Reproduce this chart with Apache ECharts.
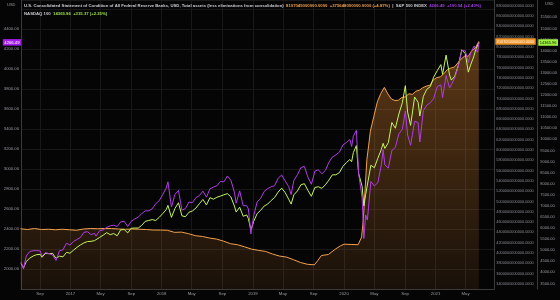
<!DOCTYPE html>
<html>
<head>
<meta charset="utf-8">
<script src="https://cdn.jsdelivr.net/npm/echarts@6/dist/echarts.min.js"></script>
<style>
html,body{margin:0;padding:0;background:#050505;}
#c{width:560px;height:300px;}
</style>
</head>
<body>
<div id="c"></div>
<script>
// ---------- DATA ----------
const marketDates = [
'2016-06-17','2016-06-27','2016-07-08','2016-07-22','2016-08-05','2016-08-19','2016-09-02','2016-09-09','2016-09-23','2016-10-07','2016-10-21','2016-11-04','2016-11-18','2016-12-02','2016-12-16','2016-12-30',
'2017-01-13','2017-01-27','2017-02-10','2017-02-24','2017-03-10','2017-03-24','2017-04-07','2017-04-13','2017-04-28','2017-05-12','2017-05-26','2017-06-09','2017-06-23','2017-07-07','2017-07-21','2017-08-04','2017-08-18','2017-09-01','2017-09-15','2017-09-29','2017-10-13','2017-10-27','2017-11-10','2017-11-24','2017-12-08','2017-12-22',
'2018-01-05','2018-01-19','2018-01-26','2018-02-09','2018-02-23','2018-03-09','2018-03-23','2018-04-06','2018-04-20','2018-05-04','2018-05-18','2018-06-01','2018-06-15','2018-06-29','2018-07-13','2018-07-27','2018-08-10','2018-08-24','2018-09-07','2018-09-21','2018-10-05','2018-10-19','2018-10-26','2018-11-09','2018-11-23','2018-12-07','2018-12-14','2018-12-24',
'2019-01-04','2019-01-18','2019-02-01','2019-02-15','2019-03-01','2019-03-15','2019-03-29','2019-04-12','2019-04-26','2019-05-10','2019-05-24','2019-06-03','2019-06-14','2019-06-28','2019-07-12','2019-07-26','2019-08-09','2019-08-23','2019-09-06','2019-09-20','2019-10-04','2019-10-18','2019-11-01','2019-11-15','2019-11-29','2019-12-13','2019-12-27',
'2020-01-10','2020-01-24','2020-01-31','2020-02-07','2020-02-19','2020-02-28','2020-03-06','2020-03-13','2020-03-20','2020-03-27','2020-04-03','2020-04-17','2020-05-01','2020-05-15','2020-05-29','2020-06-05','2020-06-12','2020-06-26','2020-07-10','2020-07-24','2020-08-07','2020-08-21','2020-09-02','2020-09-11','2020-09-23','2020-10-09','2020-10-23','2020-10-30','2020-11-13','2020-11-27','2020-12-11','2020-12-24',
'2021-01-08','2021-01-22','2021-01-29','2021-02-12','2021-02-26','2021-03-05','2021-03-19','2021-04-01','2021-04-16','2021-04-30','2021-05-12','2021-05-21','2021-06-04','2021-06-11','2021-06-18','2021-06-24'];

const sp500 = [
2071,2000,2130,2175,2183,2184,2180,2128,2165,2153,2141,2085,2182,2192,2258,2239,
2275,2295,2316,2367,2373,2344,2356,2329,2384,2391,2416,2432,2438,2425,2472,2477,2425,2477,2500,2519,2553,2581,2582,2602,2652,2683,
2743,2810,2872,2620,2747,2786,2588,2604,2670,2663,2713,2735,2779,2718,2801,2819,2833,2875,2872,2930,2886,2768,2658,2781,2633,2633,2600,2351,
2532,2671,2707,2775,2804,2822,2834,2907,2940,2881,2826,2744,2887,2942,3014,3026,2919,2847,2979,2992,2952,2986,3067,3120,3141,3169,3240,
3265,3295,3225,3328,3386,2954,2972,2711,2305,2541,2489,2875,2830,2864,3044,3194,3041,3009,3185,3216,3351,3397,3580,3341,3237,3477,3465,3270,3585,3638,3663,3703,
3825,3841,3714,3934,3811,3842,3913,4020,4185,4181,4063,4156,4230,4247,4166,4266.49];

const nasdaq100 = [
4400,4201,4490,4640,4740,4800,4810,4680,4860,4840,4860,4630,4730,4700,4900,4864,
5000,5130,5240,5330,5390,5400,5430,5360,5580,5680,5790,5700,5750,5650,5920,5930,5780,5990,6000,6000,6120,6300,6340,6380,6340,6480,
6650,6830,7020,6480,6880,7140,6550,6510,6710,6770,6900,7100,7290,7040,7370,7300,7390,7440,7500,7550,7400,6990,6720,6940,6530,6590,6420,5900,
6300,6650,6800,6990,7080,7240,7380,7620,7800,7600,7300,7080,7500,7670,7950,8000,7700,7430,7830,7860,7790,7950,8160,8400,8400,8500,8780,
8950,9090,8990,9400,9720,8460,8530,7880,7000,7500,7530,8830,8720,9150,9550,9820,9590,9850,10760,10500,11140,11650,12420,11230,10630,11910,11670,11050,11940,12260,12380,12800,
13100,13370,12930,13800,12900,12670,12850,13300,14040,13860,13030,13350,13770,14070,14050,14365.96];

const fedDates = [
'2016-06-15','2016-07-13','2016-08-10','2016-09-07','2016-10-05','2016-11-02','2016-11-30','2016-12-28',
'2017-01-25','2017-02-22','2017-03-22','2017-04-19','2017-05-17','2017-06-14','2017-07-12','2017-08-09','2017-09-06','2017-10-04','2017-11-01','2017-11-29','2017-12-27',
'2018-01-24','2018-02-21','2018-03-21','2018-04-18','2018-05-16','2018-06-13','2018-07-11','2018-08-08','2018-09-05','2018-10-03','2018-10-31','2018-11-28','2018-12-26',
'2019-01-23','2019-02-20','2019-03-20','2019-04-17','2019-05-15','2019-06-12','2019-07-10','2019-08-07','2019-09-04','2019-09-18','2019-10-02','2019-10-30','2019-11-27','2019-12-18',
'2020-01-01','2020-01-29','2020-02-26','2020-03-11','2020-03-18','2020-03-25','2020-04-01','2020-04-08','2020-04-15','2020-04-29','2020-05-13','2020-05-27','2020-06-10','2020-06-24','2020-07-08','2020-07-22','2020-08-05','2020-08-19','2020-09-02','2020-09-16','2020-09-30','2020-10-14','2020-10-28','2020-11-11','2020-11-25','2020-12-09','2020-12-23',
'2021-01-06','2021-01-20','2021-02-03','2021-02-17','2021-03-03','2021-03-17','2021-03-31','2021-04-14','2021-04-28','2021-05-12','2021-05-26','2021-06-09','2021-06-23'];

// Fed total assets, billions of USD
const fedAssets = [
4470,4455,4475,4455,4460,4450,4460,4450,
4440,4465,4475,4470,4475,4475,4465,4460,4465,4460,4455,4445,4445,
4440,4400,4405,4375,4335,4320,4290,4270,4230,4180,4160,4120,4075,
4050,4030,3980,3940,3920,3870,3815,3780,3770,3855,3950,3970,4075,4140,
4170,4165,4160,4310,4665,5245,5815,6080,6365,6655,6935,7100,7215,7090,6990,6960,6965,7020,7030,7090,7080,7140,7160,7210,7240,7255,7360,
7405,7420,7480,7560,7590,7610,7690,7770,7825,7820,7930,7980,8107.045];

const tickDates = ['2016-09-01','2017-01-01','2017-05-01','2017-09-01','2018-01-01','2018-05-01','2018-09-01','2019-01-01','2019-05-01','2019-09-01','2020-01-01','2020-05-01','2020-09-01','2021-01-01','2021-05-01'];
const monthNames = ['Jan','Feb','Mar','Apr','May','Jun','Jul','Aug','Sep','Oct','Nov','Dec'];

const titleFed = 'U.S. Consolidated Statement of Condition of All Federal Reserve Banks, USD, Total assets (less eliminations from consolidation)';
const fedQuote = '8107045000000.0000  +375648000000.0000 (+4.87%)';
const spName = 'S&P 500 INDEX';
const spQuote = '4266.49  +100.04 (+2.40%)';
const ndxName = 'NASDAQ 100';
const ndxQuote = '14365.96  +315.37 (+2.25%)';

// ---------- CHART ----------
const C_SP = '#b13ce6', C_NDX = '#c4f55c', C_FED = '#f2a04c';
const FONT = 'Liberation Sans, Arial, sans-serif';
const LBL = '#9a9ca3';
const ts = d => new Date(d + 'T00:00:00Z').getTime();
const tickTs = tickDates.map(ts);
const FS = 4.25;

const chart = echarts.init(document.getElementById('c'), null, {renderer: 'canvas'});
chart.setOption({
  backgroundColor: '#050505',
  animation: false,
  textStyle: {fontFamily: FONT},
  title: {
    left: 24, top: 2, padding: 0,
    text: '{a|' + titleFed + '}  {o|' + fedQuote + '}  {a||}  {a|' + spName + '}  {p|' + spQuote + '}\n{a|' + ndxName + '}  {g|' + ndxQuote + '}',
    textStyle: {
      fontSize: FS, lineHeight: 8,
      rich: {
        a: {color: '#c9cbd1', fontSize: FS, fontFamily: FONT, lineHeight: 8},
        o: {color: C_FED, fontSize: FS, fontFamily: FONT, lineHeight: 8},
        p: {color: '#a23ee0', fontSize: FS, fontFamily: FONT, lineHeight: 8},
        g: {color: '#9be04a', fontSize: FS, fontFamily: FONT, lineHeight: 8}
      }
    }
  },
  graphic: [
    {type: 'text', left: 7, top: 3, style: {text: 'USD', fill: LBL, font: '4px ' + FONT}},
    {type: 'text', left: 545, top: 2, style: {text: 'USD', fill: LBL, font: '4px ' + FONT}}
  ],
  grid: {left: 21, right: 64, top: 0, bottom: 11, containLabel: false},
  xAxis: {
    type: 'value',
    min: ts('2016-06-17'), max: ts('2021-08-24'),
    axisLine: {show: true, onZero: false, lineStyle: {color: '#3a3a3a', width: 1}},
    axisTick: {show: false, customValues: tickTs},
    axisLabel: {
      customValues: tickTs,
      color: LBL, fontSize: 4.3, margin: 3, fontFamily: FONT,
      formatter: v => { const d = new Date(v); const m = d.getUTCMonth(); return m === 0 ? String(d.getUTCFullYear()) : monthNames[m]; }
    },
    splitLine: {show: true, lineStyle: {color: '#181818', width: 1}}
  },
  yAxis: [
    {
      type: 'value', position: 'left', min: 1800, max: 4690, interval: 200,
      axisLine: {show: true, lineStyle: {color: '#3a3a3a'}},
      axisTick: {show: false},
      axisLabel: {color: LBL, fontSize: 4.2, margin: 2, fontFamily: FONT,
        formatter: v => (v >= 2000 && v <= 4400) ? v.toFixed(2) : ''},
      splitLine: {show: true, lineStyle: {color: '#181818'}}
    },
    {
      type: 'value', position: 'right', offset: 0, min: 3300, max: 8912, interval: 100,
      axisLine: {show: true, lineStyle: {color: '#3a3a3a'}},
      axisTick: {show: false},
      axisLabel: {color: '#8a8c93', fontSize: 3.85, margin: 2, fontFamily: FONT,
        formatter: v => (v % 200 === 0 && v >= 3400 && v <= 8800) ? (v * 1e9).toFixed(4) : ''},
      splitLine: {show: false}
    },
    {
      type: 'value', position: 'right', offset: 43, min: 3250, max: 16284, interval: 250,
      axisLine: {show: true, lineStyle: {color: '#3a3a3a'}},
      axisTick: {show: false},
      axisLabel: {color: LBL, fontSize: 4.0, margin: 3, fontFamily: FONT,
        formatter: v => (v % 500 === 0 && v >= 3500 && v <= 15500) ? v.toFixed(2) : ''},
      splitLine: {show: false}
    }
  ],
  series: [
    {
      name: 'Fed', type: 'line', yAxisIndex: 1, showSymbol: false, z: 1,
      data: fedDates.map((d, i) => [ts(d), fedAssets[i]]),
      lineStyle: {color: C_FED, width: 1},
      areaStyle: {origin: 'start', color: new echarts.graphic.LinearGradient(0, 0, 0, 1, [
        {offset: 0, color: 'rgba(235,140,50,0.55)'},
        {offset: 1, color: 'rgba(235,140,50,0.12)'}
      ])},
      markLine: {
        silent: true, symbol: 'none', lineStyle: {color: 'rgba(0,0,0,0)', width: 0},
        data: [{yAxis: fedAssets[fedAssets.length - 1]}],
        label: {show: true, position: 'end', distance: 1, color: '#fff4e6', backgroundColor: '#f0962a', padding: [1.5, 1.5, 1, 1.5],
          fontSize: 3.85, fontFamily: FONT, formatter: p => (p.value * 1e9).toFixed(4)}
      }
    },
    {
      name: 'S&P 500', type: 'line', yAxisIndex: 0, showSymbol: false, z: 3,
      data: marketDates.map((d, i) => [ts(d), sp500[i]]),
      lineStyle: {color: C_SP, width: 1},
      markLine: {
        silent: true, symbol: 'none', lineStyle: {color: 'rgba(0,0,0,0)', width: 0},
        data: [{yAxis: sp500[sp500.length - 1]}],
        label: {show: true, position: 'start', distance: 0, color: '#ffffff', backgroundColor: '#a31fe8', padding: [1.5, 1.5, 1, 1.5],
          fontSize: 4.2, fontFamily: FONT, formatter: p => p.value.toFixed(2)}
      }
    },
    {
      name: 'NASDAQ 100', type: 'line', yAxisIndex: 2, showSymbol: false, z: 2,
      data: marketDates.map((d, i) => [ts(d), nasdaq100[i]]),
      lineStyle: {color: C_NDX, width: 1},
      markLine: {
        silent: true, symbol: 'none', lineStyle: {color: 'rgba(0,0,0,0)', width: 0},
        data: [{yAxis: nasdaq100[nasdaq100.length - 1]}],
        label: {show: true, position: 'end', distance: 44, color: '#0a1a00', backgroundColor: '#9ef040', padding: [1.5, 1.5, 1, 1.5],
          fontSize: 4.0, fontFamily: FONT, formatter: p => p.value.toFixed(2)}
      }
    }
  ]
});
</script>
</body>
</html>
